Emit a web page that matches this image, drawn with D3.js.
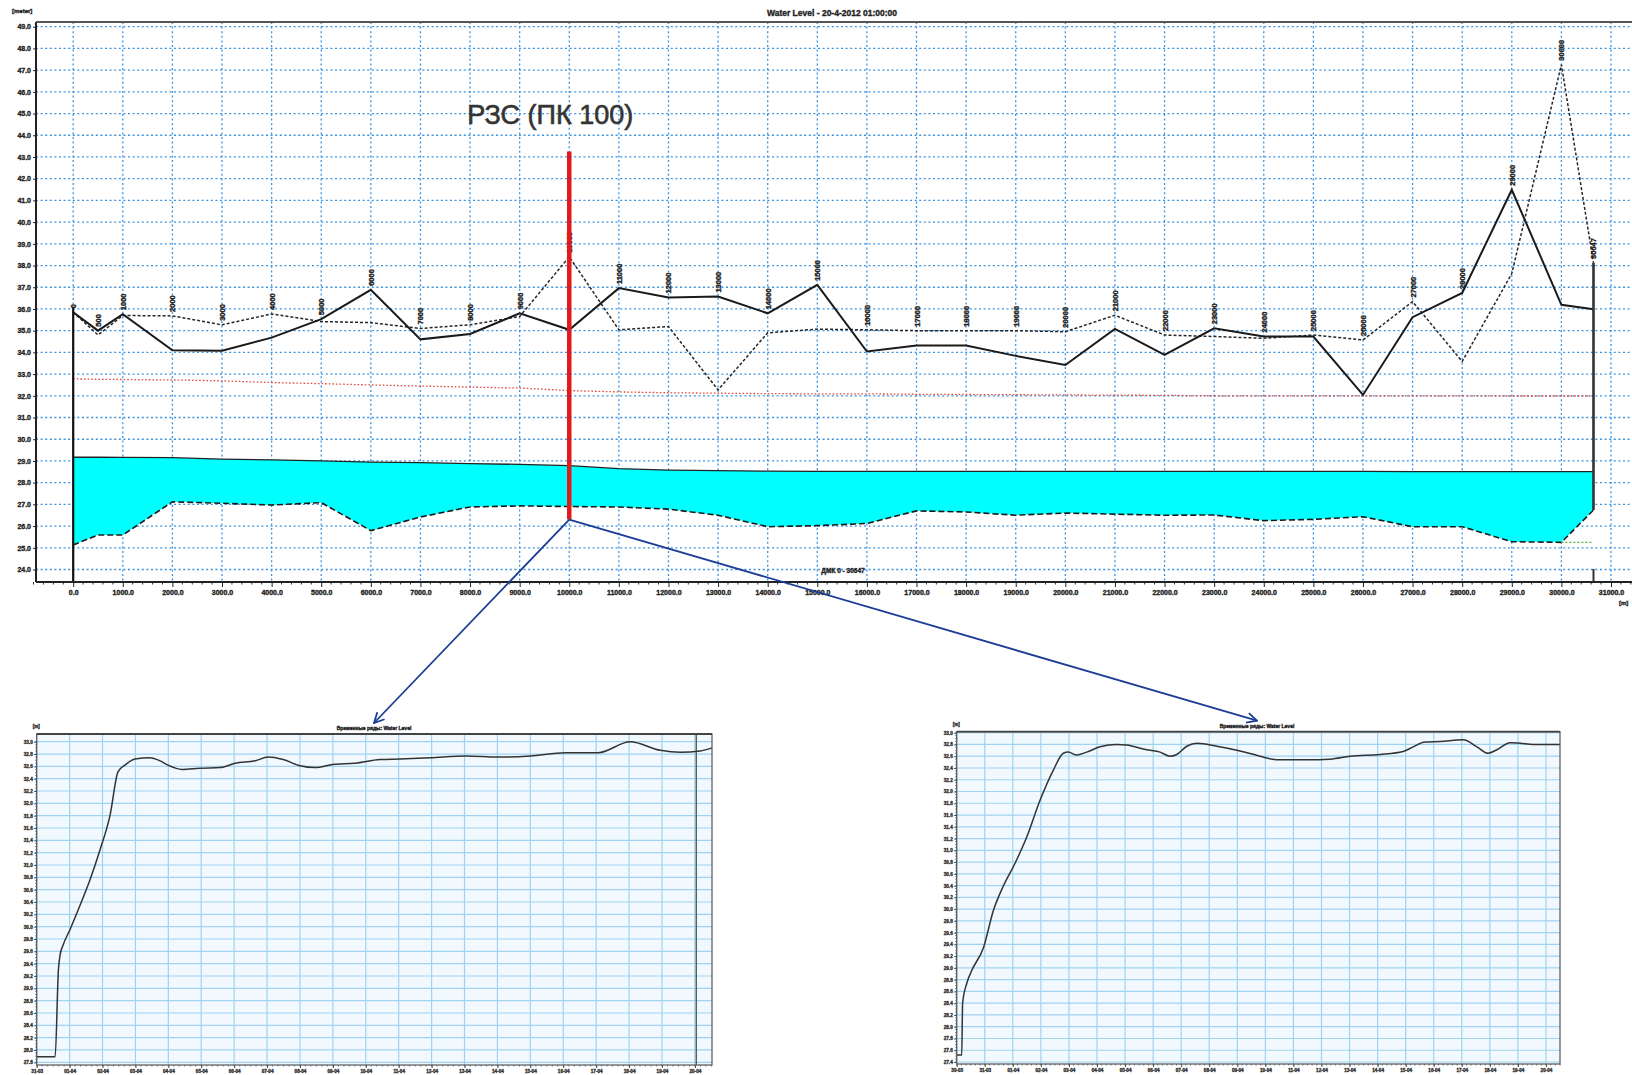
<!DOCTYPE html>
<html>
<head>
<meta charset="utf-8">
<script src="https://cdn.jsdelivr.net/npm/d3@7"></script>
<style>
  body { margin: 0; background: #fff; }
  svg { display: block; }
  text { font-family: "Liberation Sans", Arial, sans-serif; }
</style>
</head>
<body>
<svg id="chart" width="1632" height="1075"></svg>
<script>
// ---------- Longitudinal profile (chainage in metres, levels in metres) ----------
const chainage = [0, 500, 1000, 2000, 3000, 4000, 5000, 6000, 7000, 8000, 9000, 10000,
  11000, 12000, 13000, 14000, 15000, 16000, 17000, 18000, 19000, 20000, 21000, 22000,
  23000, 24000, 25000, 26000, 27000, 28000, 29000, 30000, 30647];
const bankSolid = [35.85, 35.0, 35.76, 34.1, 34.08, 34.68, 35.53, 36.88, 34.6, 34.85, 35.8, 35.04,
  36.96, 36.53, 36.57, 35.8, 37.11, 34.04, 34.32, 34.32, 33.84, 33.42, 35.08, 33.88,
  35.11, 34.73, 34.73, 32.04, 35.62, 36.74, 41.49, 36.19, 35.99];
const bankDashed = [35.85, 34.8, 35.7, 35.68, 35.27, 35.77, 35.42, 35.37, 35.1, 35.27, 35.65, 38.4,
  35.04, 35.19, 32.27, 34.9, 35.07, 35.04, 35.0, 35.0, 35.0, 34.95, 35.71, 34.8,
  34.73, 34.65, 34.8, 34.57, 36.34, 33.58, 37.63, 47.25, 38.12];
const designLevel = [32.78, 32.76, 32.75, 32.73, 32.69, 32.61, 32.56, 32.5, 32.45, 32.4, 32.36, 32.24,
  32.18, 32.14, 32.12, 32.1, 32.09, 32.09, 32.07, 32.06, 32.05, 32.04, 32.03, 32.02,
  32.0, 32.0, 32.0, 32.0, 32.0, 32.0, 31.99, 31.99, 31.99];
const waterSurface = [29.17, 29.17, 29.16, 29.15, 29.08, 29.05, 29.0, 28.95, 28.92, 28.88, 28.84, 28.78,
  28.65, 28.58, 28.55, 28.53, 28.52, 28.52, 28.52, 28.52, 28.52, 28.52, 28.52, 28.52,
  28.52, 28.52, 28.52, 28.52, 28.51, 28.51, 28.51, 28.51, 28.51];
const bedLevel = [25.13, 25.59, 25.59, 27.12, 27.05, 26.97, 27.08, 25.79, 26.42, 26.88, 26.93, 26.9,
  26.88, 26.78, 26.5, 25.97, 26.02, 26.12, 26.7, 26.65, 26.5, 26.6, 26.55, 26.5,
  26.51, 26.25, 26.31, 26.43, 25.97, 25.97, 25.28, 25.25, 26.74];
const floorChainage = [30000, 30647];
const floorLevel = [25.25, 25.25];
const yTickLevels = d3.range(24, 50);
const xTickChainage = d3.range(0, 31001, 1000);
const profileEnds = { start: 0, startTop: 36.1, end: 30647, endTop: 38.12, endBottom: 26.74 };
const marker = { chainage: 10000, top: 43.25, bottom: 26.3, label: "РЗС (ПК 100)" };

// ---------- Water level time series at two stations (day offset, level m) ----------
const daysA = [0, 0.56, 0.66, 0.71, 0.80, 1.01, 1.32, 1.62, 1.92, 2.23, 2.47, 2.68, 2.99, 3.44,
  3.75, 3.99, 4.42, 4.96, 5.57, 6.03, 6.64, 7.03, 7.49, 8.0, 8.46, 9.0, 9.67, 10.43, 11.04,
  11.95, 13.05, 14.02, 15.0, 16.06, 17.06, 18.03, 18.95, 19.56, 20.16, 20.52];
const levelA = [27.89, 27.89, 29.30, 29.54, 29.70, 29.95, 30.35, 30.76, 31.24, 31.81, 32.51, 32.62,
  32.72, 32.74, 32.69, 32.62, 32.55, 32.57, 32.58, 32.65, 32.69, 32.75, 32.71, 32.61, 32.58,
  32.63, 32.65, 32.71, 32.72, 32.74, 32.77, 32.75, 32.77, 32.82, 32.82, 33.0, 32.86, 32.83,
  32.85, 32.9];
const daysB = [0, 0.18, 0.21, 0.36, 0.54, 0.95, 1.31, 1.65, 2.08, 2.50, 2.97, 3.44, 3.80, 3.97,
  4.28, 4.63, 5.11, 5.70, 6.06, 6.77, 7.25, 7.60, 7.84, 8.20, 8.56, 9.27, 10.1, 10.81, 11.41,
  12.48, 13.31, 14.02, 15.09, 15.91, 16.27, 16.69, 17.23, 18.05, 18.54, 18.94, 19.25, 19.72,
  20.08, 20.54, 21.5];
const levelB = [27.52, 27.52, 28.40, 28.74, 28.96, 29.34, 29.98, 30.38, 30.78, 31.23, 31.85, 32.36,
  32.65, 32.67, 32.62, 32.67, 32.76, 32.80, 32.79, 32.71, 32.67, 32.60, 32.63, 32.77, 32.82,
  32.77, 32.69, 32.60, 32.54, 32.54, 32.55, 32.60, 32.63, 32.68, 32.76, 32.84, 32.85, 32.88,
  32.76, 32.65, 32.71, 32.83, 32.82, 32.80, 32.80];

const svg = d3.select("#chart");
const DAY = 86400000;

// heavy print-style label text
function heavy(sel, color) {
  return sel.attr("fill", color).attr("stroke", color).attr("stroke-width", 0.35)
    .attr("font-weight", "bold");
}

// ================= profile plot =================
const P = { left: 36, right: 1632, top: 22, bottom: 582 };
const x = d3.scaleLinear().domain([0, 31000]).range([73.2, 1611]);
const y = d3.scaleLinear().domain([24, 49]).range([569.5, 26.7]);
const rows = chainage.map((c, i) => ({
  c, solid: bankSolid[i], dashed: bankDashed[i], red: designLevel[i],
  ws: waterSurface[i], bed: bedLevel[i]
}));

const prof = svg.append("g");
const gridBlue = "#3a93e2";

// grid
prof.append("g").selectAll("line").data(yTickLevels).join("line")
  .attr("x1", P.left).attr("x2", P.right)
  .attr("y1", d => y(d)).attr("y2", d => y(d))
  .attr("stroke", gridBlue).attr("stroke-width", 1.3).attr("stroke-dasharray", "2,2.6");
prof.append("g").selectAll("line").data(xTickChainage).join("line")
  .attr("x1", d => x(d)).attr("x2", d => x(d))
  .attr("y1", P.top).attr("y2", P.bottom)
  .attr("stroke", gridBlue).attr("stroke-width", 1.3).attr("stroke-dasharray", "2,2.6");

// wetted section
prof.append("path").datum(rows)
  .attr("fill", "#00ffff")
  .attr("d", d3.area().x(d => x(d.c)).y0(d => y(d.bed)).y1(d => y(d.ws)));
prof.append("path").datum(rows)
  .attr("fill", "none").attr("stroke", "#222").attr("stroke-width", 1.3)
  .attr("d", d3.line().x(d => x(d.c)).y(d => y(d.ws)));
prof.append("path").datum(rows)
  .attr("fill", "none").attr("stroke", "#1a1a1a").attr("stroke-width", 1.6)
  .attr("stroke-dasharray", "6,3")
  .attr("d", d3.line().x(d => x(d.c)).y(d => y(d.bed)));
prof.append("path").datum(floorChainage.map((c, i) => [c, floorLevel[i]]))
  .attr("fill", "none").attr("stroke", "#55b030").attr("stroke-width", 1.2)
  .attr("stroke-dasharray", "2,2")
  .attr("d", d3.line().x(d => x(d[0])).y(d => y(d[1])));

// design (red dotted) level
prof.append("path").datum(rows)
  .attr("fill", "none").attr("stroke", "#e5483c").attr("stroke-width", 1.3)
  .attr("stroke-dasharray", "1.6,2")
  .attr("d", d3.line().x(d => x(d.c)).y(d => y(d.red)));

// bank lines
prof.append("path").datum(rows)
  .attr("fill", "none").attr("stroke", "#262626").attr("stroke-width", 1.5)
  .attr("stroke-dasharray", "3,2")
  .attr("d", d3.line().x(d => x(d.c)).y(d => y(d.dashed)));
prof.append("path").datum(rows)
  .attr("fill", "none").attr("stroke", "#1a1a1a").attr("stroke-width", 2)
  .attr("d", d3.line().x(d => x(d.c)).y(d => y(d.solid)));

// end walls
prof.append("line")
  .attr("x1", x(profileEnds.start)).attr("x2", x(profileEnds.start))
  .attr("y1", y(profileEnds.startTop)).attr("y2", P.bottom)
  .attr("stroke", "#111").attr("stroke-width", 2.2);
prof.append("line")
  .attr("x1", x(profileEnds.end)).attr("x2", x(profileEnds.end))
  .attr("y1", y(profileEnds.endTop)).attr("y2", y(profileEnds.endBottom))
  .attr("stroke", "#333").attr("stroke-width", 2.6);
prof.append("line")
  .attr("x1", x(profileEnds.end)).attr("x2", x(profileEnds.end))
  .attr("y1", P.bottom - 13).attr("y2", P.bottom)
  .attr("stroke", "#333").attr("stroke-width", 2);

// chainage labels
heavy(prof.append("g").selectAll("text").data(rows).join("text")
  .attr("transform", d => `translate(${x(d.c) + 3},${y(Math.max(d.solid, d.dashed)) - 4}) rotate(-90)`)
  .attr("font-size", 7.5), "#222")
  .text(d => d.c);

// axes
const yAxis = d3.axisLeft(y).tickValues(yTickLevels).tickFormat(d3.format(".1f")).tickSize(3).tickPadding(2);
const gy = prof.append("g").attr("transform", `translate(${P.left},0)`).call(yAxis);
const xAxis = d3.axisBottom(x).tickValues(xTickChainage).tickFormat(d3.format(".1f")).tickSize(5).tickPadding(3);
const gx = prof.append("g").attr("transform", `translate(0,${P.bottom})`).call(xAxis);
[gy, gx].forEach(g => {
  g.select(".domain").remove();
  heavy(g.selectAll("text").attr("font-size", 7)
    .attr("font-family", "Liberation Sans, Arial, sans-serif"), "#222");
  g.selectAll(".tick line").attr("stroke", "#222");
});
prof.append("g").selectAll("line").data(d3.range(-800, 31800, 200).filter(d => d % 1000 !== 0)).join("line")
  .attr("x1", d => x(d)).attr("x2", d => x(d))
  .attr("y1", P.bottom).attr("y2", P.bottom + 2.5)
  .attr("stroke", "#333").attr("stroke-width", 1);
prof.append("line").attr("x1", P.left).attr("x2", P.right).attr("y1", P.bottom).attr("y2", P.bottom)
  .attr("stroke", "#222").attr("stroke-width", 1.8);
prof.append("line").attr("x1", P.left).attr("x2", P.left).attr("y1", P.top).attr("y2", P.bottom)
  .attr("stroke", "#222").attr("stroke-width", 2);
prof.append("line").attr("x1", P.left).attr("x2", P.right).attr("y1", P.top).attr("y2", P.top)
  .attr("stroke", "#555").attr("stroke-width", 2);

heavy(prof.append("text").attr("x", 832).attr("y", 16).attr("text-anchor", "middle")
  .attr("font-size", 8.5), "#222")
  .text("Water Level - 20-4-2012 01:00:00");
heavy(prof.append("text").attr("x", 12).attr("y", 13).attr("font-size", 6), "#222").text("[meter]");
heavy(prof.append("text").attr("x", 1619).attr("y", 605).attr("font-size", 6), "#222").text("[m]");
heavy(prof.append("text").attr("x", 843).attr("y", 573).attr("text-anchor", "middle")
  .attr("font-size", 6.5), "#222").text("ДМК  0 - 30647");

// ================= time series panels =================
function timeSeriesPanel(o) {
  const g = svg.append("g");
  const sx = d3.scaleTime().domain([o.start, new Date(+o.start + o.span * DAY)]).range([o.x0, o.x1]);
  const sy = d3.scaleLinear().domain([o.vLo, o.vHi]).range([o.pxLo, o.pxHi]);
  g.append("rect").attr("x", o.x0).attr("y", o.y0).attr("width", o.x1 - o.x0).attr("height", o.y1 - o.y0)
    .attr("fill", "#f1f9fe");
  const levels = d3.range(0, Math.round((o.vHi - o.vLo) / 0.2) + 1).map(i => +(o.vLo + i * 0.2).toFixed(1));
  const days = sx.ticks(d3.timeDay.every(1));
  g.append("g").selectAll("line").data(levels).join("line")
    .attr("x1", o.x0).attr("x2", o.x1).attr("y1", d => sy(d)).attr("y2", d => sy(d))
    .attr("stroke", "#9fd3ef").attr("stroke-width", 1.2);
  g.append("g").selectAll("line").data(days).join("line")
    .attr("x1", d => sx(d)).attr("x2", d => sx(d)).attr("y1", o.y0).attr("y2", o.y1)
    .attr("stroke", "#9fd3ef").attr("stroke-width", 1.2);
  if (o.now) {
    g.append("line").attr("x1", sx(o.now)).attr("x2", sx(o.now)).attr("y1", o.y0).attr("y2", o.y1)
      .attr("stroke", "#444").attr("stroke-width", 1.2);
  }
  const pts = o.t.map((t, i) => [new Date(+o.start + t * DAY), o.v[i]]);
  g.append("path").datum(pts).attr("fill", "none").attr("stroke", "#333").attr("stroke-width", 1.5)
    .attr("d", d3.line().curve(d3.curveMonotoneX).x(d => sx(d[0])).y(d => sy(d[1])));
  // frame
  g.append("rect").attr("x", o.x0).attr("y", o.y0).attr("width", o.x1 - o.x0).attr("height", o.y1 - o.y0)
    .attr("fill", "none").attr("stroke", "#555").attr("stroke-width", 1.2);
  g.append("line").attr("x1", o.x0).attr("x2", o.x1).attr("y1", o.y0).attr("y2", o.y0)
    .attr("stroke", "#444").attr("stroke-width", 1.8);
  // axes
  const ay = g.append("g").attr("transform", `translate(${o.x0},0)`)
    .call(d3.axisLeft(sy).tickValues(levels).tickFormat(d3.format(".1f")).tickSize(2.5).tickPadding(1.5));
  const ax = g.append("g").attr("transform", `translate(0,${o.y1})`)
    .call(d3.axisBottom(sx).tickValues(days).tickFormat(d3.timeFormat("%d-%m")).tickSize(3).tickPadding(1.5));
  [ay, ax].forEach(a => {
    a.select(".domain").remove();
    heavy(a.selectAll("text").attr("font-size", 4.6)
      .attr("font-family", "Liberation Sans, Arial, sans-serif"), "#333");
    a.selectAll(".tick line").attr("stroke", "#444");
  });
  g.append("g").selectAll("line").data(d3.range(o.vLo, o.vHi + 0.001, 0.05)).join("line")
    .attr("x1", o.x0 - 1.5).attr("x2", o.x0).attr("y1", d => sy(d)).attr("y2", d => sy(d))
    .attr("stroke", "#555").attr("stroke-width", 0.8);
  g.append("g").selectAll("line").data(sx.ticks(d3.timeHour.every(4))).join("line")
    .attr("x1", d => sx(d)).attr("x2", d => sx(d)).attr("y1", o.y1).attr("y2", o.y1 + 1.5)
    .attr("stroke", "#555").attr("stroke-width", 0.8);
  heavy(g.append("text").attr("x", o.x0 - 4).attr("y", o.y0 - 6).attr("font-size", 4.6), "#333").text("[m]");
  heavy(g.append("text").attr("x", o.titleX).attr("y", o.y0 - 4).attr("text-anchor", "middle")
    .attr("font-size", 5), "#222").text(o.title);
  return { x: o.titleX, y: o.y0 - 11 };
}

const tipA = timeSeriesPanel({
  x0: 36.7, x1: 712, y0: 734, y1: 1065, start: new Date(2012, 2, 31), span: 20.52,
  vLo: 27.8, vHi: 33.0, pxLo: 1062.3, pxHi: 741.7, t: daysA, v: levelA,
  now: new Date(2012, 3, 20, 1), titleX: 374, title: "Временные ряды: Water Level"
});
const tipB = timeSeriesPanel({
  x0: 956.7, x1: 1560, y0: 731.7, y1: 1064, start: new Date(2012, 2, 30), span: 21.5,
  vLo: 27.4, vHi: 33.0, pxLo: 1062, pxHi: 732.7, t: daysB, v: levelB,
  now: null, titleX: 1257, title: "Временные ряды: Water Level"
});

// ================= section marker and call-out arrows =================
const ann = svg.append("g");
ann.append("line")
  .attr("x1", x(marker.chainage)).attr("x2", x(marker.chainage))
  .attr("y1", y(marker.top)).attr("y2", y(marker.bottom))
  .attr("stroke", "#e31a1c").attr("stroke-width", 4.5);
ann.append("text").attr("x", x(marker.chainage) - 19).attr("y", 124).attr("text-anchor", "middle")
  .attr("font-family", "Open Sans, Noto Sans, sans-serif").attr("font-size", 27)
  .attr("font-weight", "normal").attr("fill", "#343434")
  .attr("stroke", "#343434").attr("stroke-width", 0.6)
  .text(marker.label);

const defs = svg.append("defs");
defs.append("marker").attr("id", "head").attr("viewBox", "0 0 12 12")
  .attr("refX", 11).attr("refY", 6).attr("markerWidth", 12).attr("markerHeight", 12)
  .attr("markerUnits", "userSpaceOnUse").attr("orient", "auto")
  .append("path").attr("d", "M1,1 L11,6 L1,11").attr("fill", "none")
  .attr("stroke", "#1c3d96").attr("stroke-width", 1.8);
const origin = [x(marker.chainage), y(marker.bottom)];
[tipA, tipB].forEach(tip => {
  ann.append("line").attr("x1", origin[0]).attr("y1", origin[1])
    .attr("x2", tip.x).attr("y2", tip.y)
    .attr("stroke", "#1c3d96").attr("stroke-width", 1.8).attr("marker-end", "url(#head)");
});
</script>
</body>
</html>
